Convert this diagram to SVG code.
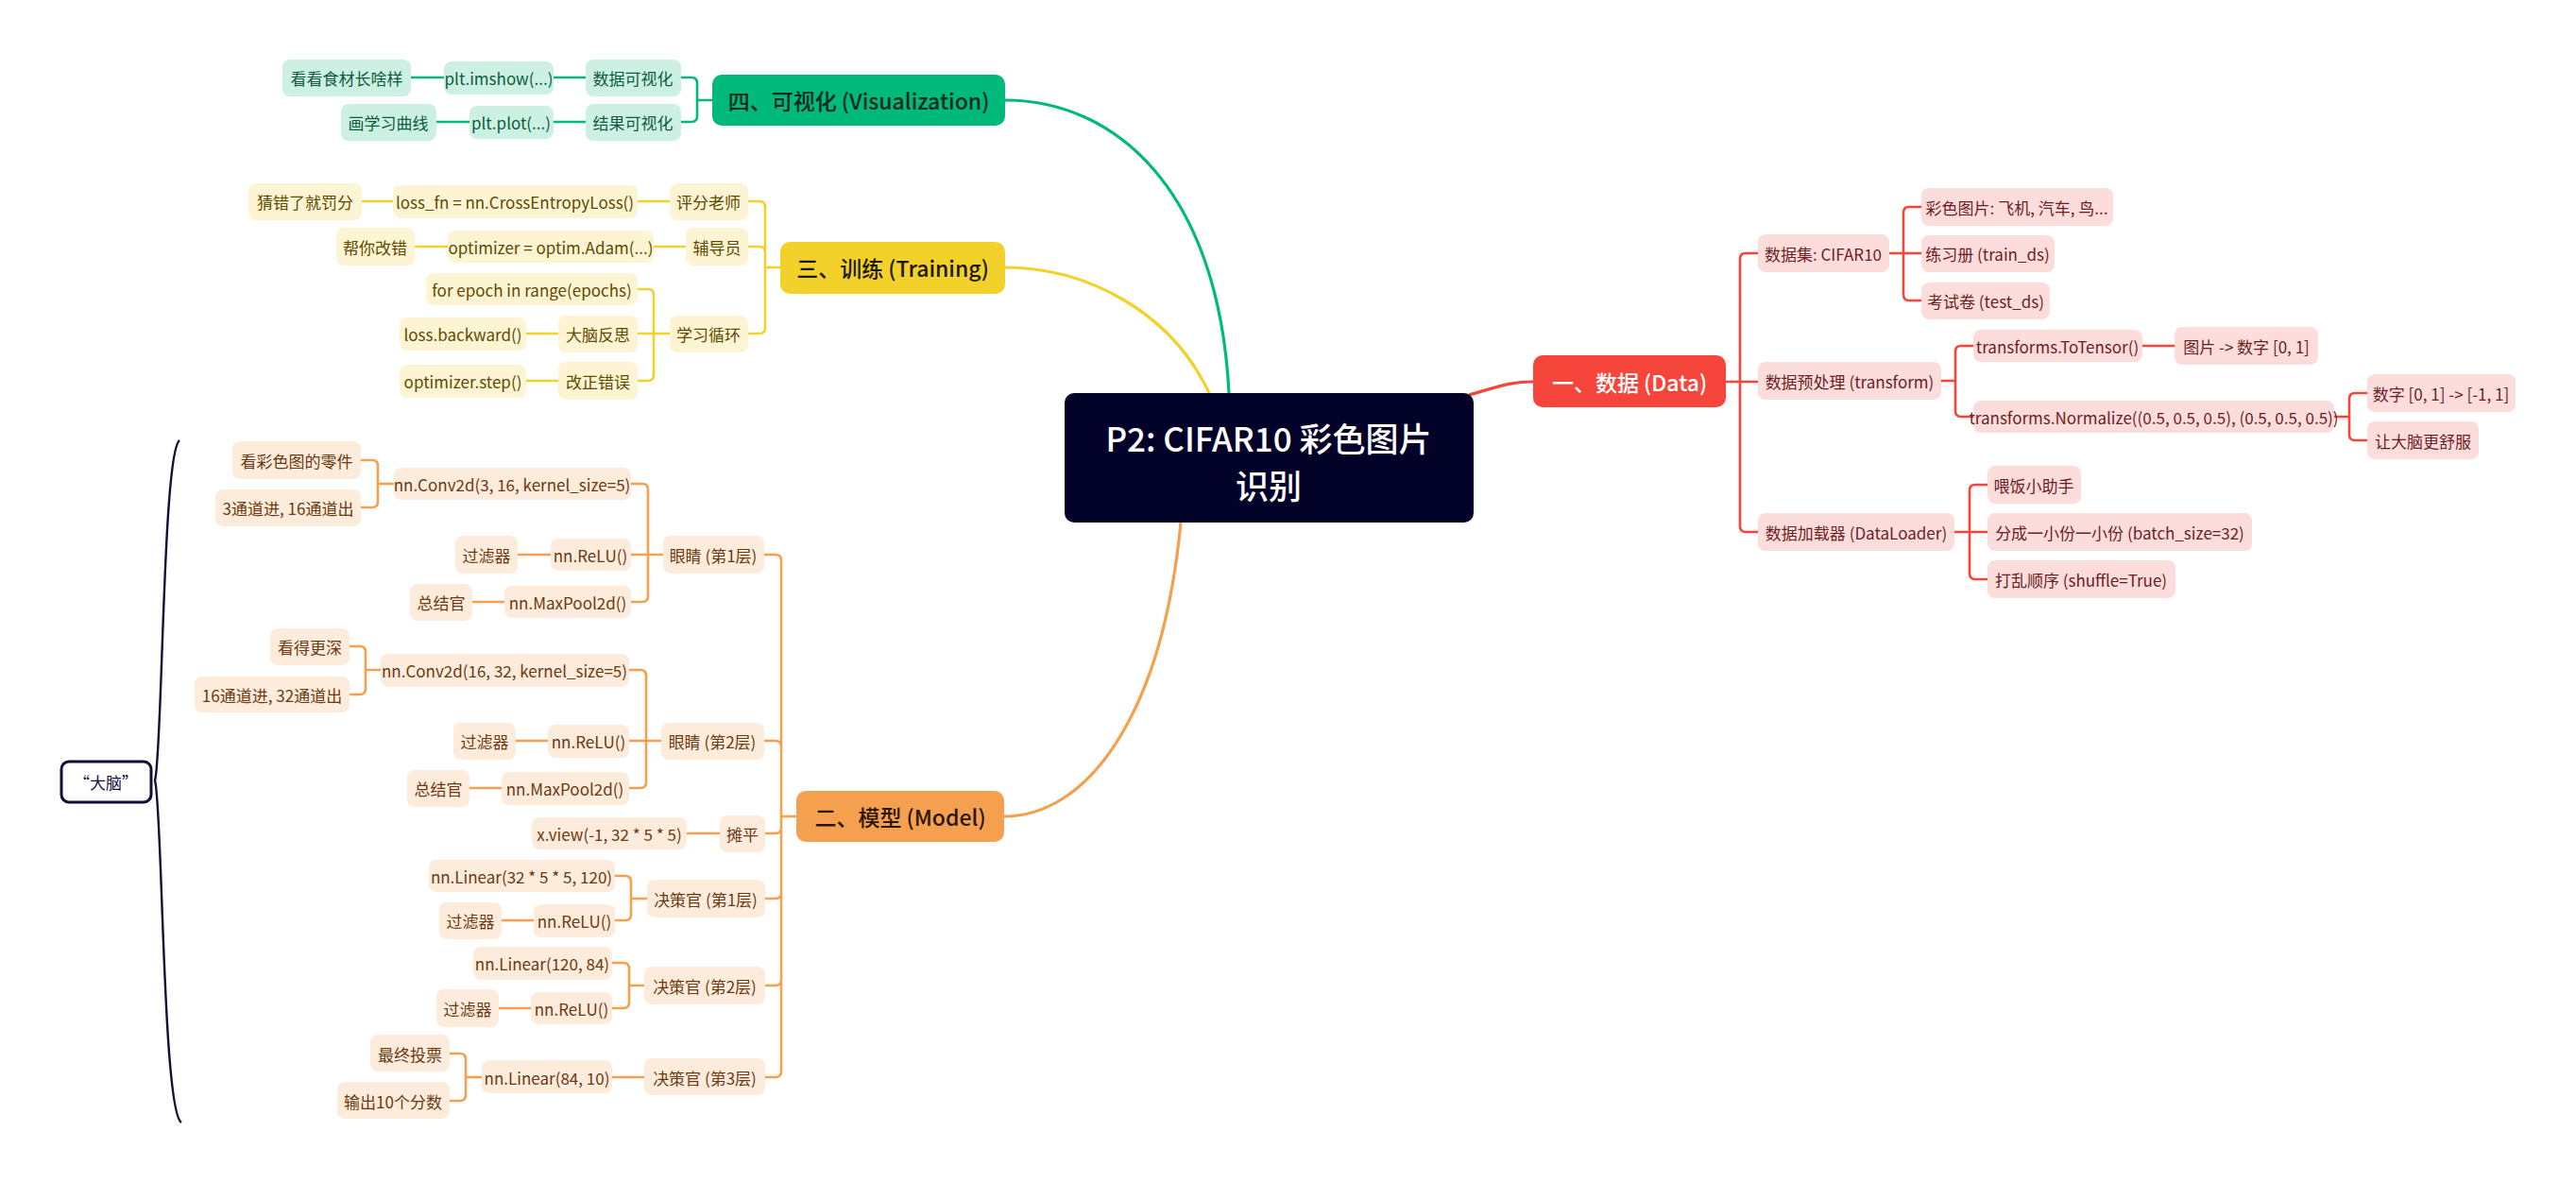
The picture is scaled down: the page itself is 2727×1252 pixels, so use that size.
<svg xmlns="http://www.w3.org/2000/svg" width="2727" height="1252" viewBox="0 0 2727 1252">
<style>
text{font-family:"Noto Sans CJK SC","Noto Sans",sans-serif;text-anchor:middle;dominant-baseline:central;font-size:17px}
.t{font-size:23px;font-weight:500}
.ng{fill:#CCF1E3}.tg{fill:#0D5C40}
.ny{fill:#FDF4D3}.ty{fill:#5E4B00}
.no{fill:#FDEBDB}.to{fill:#6B3A12}
.nr{fill:#FDDCDC}.tr{fill:#6B1F1F}
.c{fill:none;stroke-width:2.6;stroke-linejoin:round}
.cg{stroke:#00B97A}.cy{stroke:#F2D12A}.co{stroke:#F5A04E}.cr{stroke:#F6463C}
.m{fill:none;stroke-width:3.2}
</style>
<rect width="2727" height="1252" fill="#fff"/>
<g id="connectors">
<path class="m cg" d="M1301 416 C1290 200 1180 106 1064 106"/>
<path class="m cy" d="M1280 416 C1240 330 1150 283 1064 283"/>
<path class="m co" d="M1250 553 C1230 760 1150 864 1063 864"/>
<path class="m cr" d="M1555 418 C1590 408 1600 404 1623 404"/>
<path class="c cg" d="M721 82 H732 Q738 82 738 88 V106 H754 M721 129 H732 Q738 129 738 123 V106 M586 82 H620 M435 82 H470 M586 129 H620 M462 129 H497"/>
<path class="c cy" d="M792 213 H804 Q810 213 810 219 V283 H826 M792 261 H804 Q810 261 810 267 V283 M792 353 H804 Q810 353 810 347 V283 M675 213 H709 M383 213 H416 M692 261 H726 M439 261 H474 M675 306 H686 Q692 306 692 312 V353 H709 M675 353 H692 M675 403 H686 Q692 403 692 397 V353 M557 353 H591 M557 403 H591"/>
<path class="c co" d="M809 587 H821 Q827 587 827 593 V864 H843 M809 784 H821 Q827 784 827 790 V864 M810 882 H821 Q827 882 827 876 V864 M810 951 H821 Q827 951 827 945 V864 M810 1043 H821 Q827 1043 827 1037 V864 M810 1140 H821 Q827 1140 827 1134 V864
M668 512 H680 Q686 512 686 518 V587 H702 M668 587 H686 M668 637 H680 Q686 637 686 631 V587
M382 487 H394 Q400 487 400 493 V512 H417 M382 537 H394 Q400 537 400 531 V512 M548 587 H583 M500 637 H534
M666 709 H678 Q684 709 684 715 V784 H700 M666 784 H684 M666 834 H678 Q684 834 684 828 V784
M370 684 H381 Q387 684 387 690 V709 H403 M370 735 H381 Q387 735 387 729 V709 M546 784 H580 M497 834 H531
M727 882 H762
M651 927 H662 Q668 927 668 933 V951 H685 M651 974 H662 Q668 974 668 968 V951 M531 974 H565
M648 1019 H660 Q666 1019 666 1025 V1043 H682 M648 1067 H660 Q666 1067 666 1061 V1043 M528 1067 H562
M648 1140 H682 M476 1115 H487 Q493 1115 493 1121 V1140 H510 M476 1165 H487 Q493 1165 493 1159 V1140"/>
<path class="c cr" d="M1827 404 H1842 V274 Q1842 268 1848 268 H1861 M1842 404 H1861 M1842 404 V557 Q1842 563 1848 563 H1861
M2000 268 H2015 V225 Q2015 219 2021 219 H2034 M2015 268 H2034 M2015 268 V312 Q2015 318 2021 318 H2034
M2055 403 H2070 V372 Q2070 366 2076 366 H2089 M2070 403 V435 Q2070 441 2076 441 H2089 M2268 366 H2302
M2471 441 H2487 V422 Q2487 416 2493 416 H2506 M2487 441 V460 Q2487 466 2493 466 H2506
M2069 563 H2085 V519 Q2085 513 2091 513 H2104 M2085 563 H2104 M2085 563 V607 Q2085 613 2091 613 H2104"/>
<path fill="none" stroke="#0F0F3A" stroke-width="2.4" d="M190 466 C172 480 172 800 164 826 C172 852 172 1175 192 1188"/>
</g>
<g id="center"><rect x="1127" y="416" width="433" height="137" rx="10" fill="#03032A"/><text x="1343" y="462" style="font-size:35px;font-weight:500" fill="#fff">P2: CIFAR10 彩色图片</text><text x="1343" y="512" style="font-size:35px;font-weight:500" fill="#fff">识别</text></g>
<g id="brain"><rect x="65" y="806" width="95" height="43" rx="8" fill="#fff" stroke="#0F0F3A" stroke-width="3"/><text x="112" y="827" fill="#0F0F3A">“大脑”</text></g>
<!-- green -->
<g id="viz"><rect x="754" y="79" width="310" height="54" rx="10" fill="#00B97A"/><text class="t" x="909" y="106" fill="#0A2A1E">四、可视化 (Visualization)</text></g>
<g id="g1"><rect class="ng" x="299" y="63" width="136" height="39" rx="8"/><text class="tg" x="367" y="82">看看食材长啥样</text></g>
<g id="g2"><rect class="ng" x="470" y="65" width="116" height="35" rx="8"/><text class="tg" x="528" y="82">plt.imshow(...)</text></g>
<g id="g3"><rect class="ng" x="620" y="63" width="101" height="39" rx="8"/><text class="tg" x="670" y="82">数据可视化</text></g>
<g id="g4"><rect class="ng" x="361" y="110" width="101" height="39" rx="8"/><text class="tg" x="411" y="129">画学习曲线</text></g>
<g id="g5"><rect class="ng" x="497" y="112" width="89" height="35" rx="8"/><text class="tg" x="541" y="129">plt.plot(...)</text></g>
<g id="g6"><rect class="ng" x="620" y="110" width="101" height="39" rx="8"/><text class="tg" x="670" y="129">结果可视化</text></g>
<!-- yellow -->
<g id="train"><rect x="826" y="256" width="238" height="55" rx="10" fill="#F2D12A"/><text class="t" x="945" y="283" fill="#1E1800">三、训练 (Training)</text></g>
<g id="y1"><rect class="ny" x="263" y="194" width="120" height="39" rx="8"/><text class="ty" x="323" y="213">猜错了就罚分</text></g>
<g id="y2"><rect class="ny" x="416" y="196" width="259" height="35" rx="8"/><text class="ty" x="545" y="213">loss_fn = nn.CrossEntropyLoss()</text></g>
<g id="y3"><rect class="ny" x="709" y="194" width="83" height="39" rx="8"/><text class="ty" x="750" y="213">评分老师</text></g>
<g id="y4"><rect class="ny" x="356" y="241" width="83" height="40" rx="8"/><text class="ty" x="397" y="261">帮你改错</text></g>
<g id="y5"><rect class="ny" x="474" y="244" width="218" height="34" rx="8"/><text class="ty" x="583" y="261">optimizer = optim.Adam(...)</text></g>
<g id="y6"><rect class="ny" x="726" y="241" width="66" height="40" rx="8"/><text class="ty" x="759" y="261">辅导员</text></g>
<g id="y7"><rect class="ny" x="451" y="289" width="224" height="34" rx="8"/><text class="ty" x="563" y="306">for epoch in range(epochs)</text></g>
<g id="y8"><rect class="ny" x="709" y="334" width="83" height="39" rx="8"/><text class="ty" x="750" y="353">学习循环</text></g>
<g id="y9"><rect class="ny" x="591" y="334" width="84" height="39" rx="8"/><text class="ty" x="633" y="353">大脑反思</text></g>
<g id="y10"><rect class="ny" x="423" y="336" width="134" height="35" rx="8"/><text class="ty" x="490" y="353">loss.backward()</text></g>
<g id="y11"><rect class="ny" x="591" y="383" width="84" height="40" rx="8"/><text class="ty" x="633" y="403">改正错误</text></g>
<g id="y12"><rect class="ny" x="423" y="386" width="134" height="35" rx="8"/><text class="ty" x="490" y="403">optimizer.step()</text></g>
<!-- orange -->
<g id="model"><rect x="843" y="837" width="220" height="54" rx="10" fill="#F5A04E"/><text class="t" x="953" y="864" fill="#2A1505">二、模型 (Model)</text></g>
<g id="o1"><rect class="no" x="246" y="467" width="136" height="40" rx="8"/><text class="to" x="314" y="487">看彩色图的零件</text></g>
<g id="o2"><rect class="no" x="228" y="518" width="154" height="39" rx="8"/><text class="to" x="305" y="537">3通道进, 16通道出</text></g>
<g id="o3"><rect class="no" x="417" y="495" width="251" height="34" rx="8"/><text class="to" x="542" y="512">nn.Conv2d(3, 16, kernel_size=5)</text></g>
<g id="o4"><rect class="no" x="482" y="567" width="66" height="40" rx="8"/><text class="to" x="515" y="587">过滤器</text></g>
<g id="o5"><rect class="no" x="583" y="570" width="85" height="34" rx="8"/><text class="to" x="625" y="587">nn.ReLU()</text></g>
<g id="o6"><rect class="no" x="702" y="567" width="107" height="40" rx="8"/><text class="to" x="755" y="587">眼睛 (第1层)</text></g>
<g id="o7"><rect class="no" x="434" y="618" width="66" height="39" rx="8"/><text class="to" x="467" y="637">总结官</text></g>
<g id="o8"><rect class="no" x="534" y="620" width="134" height="34" rx="8"/><text class="to" x="601" y="637">nn.MaxPool2d()</text></g>
<g id="o9"><rect class="no" x="286" y="665" width="84" height="39" rx="8"/><text class="to" x="328" y="684">看得更深</text></g>
<g id="o10"><rect class="no" x="206" y="716" width="164" height="38" rx="8"/><text class="to" x="288" y="735">16通道进, 32通道出</text></g>
<g id="o11"><rect class="no" x="403" y="692" width="263" height="35" rx="8"/><text class="to" x="534" y="709">nn.Conv2d(16, 32, kernel_size=5)</text></g>
<g id="o12"><rect class="no" x="480" y="765" width="66" height="39" rx="8"/><text class="to" x="513" y="784">过滤器</text></g>
<g id="o13"><rect class="no" x="580" y="767" width="86" height="35" rx="8"/><text class="to" x="623" y="784">nn.ReLU()</text></g>
<g id="o14"><rect class="no" x="700" y="765" width="109" height="39" rx="8"/><text class="to" x="754" y="784">眼睛 (第2层)</text></g>
<g id="o15"><rect class="no" x="431" y="815" width="66" height="39" rx="8"/><text class="to" x="464" y="834">总结官</text></g>
<g id="o16"><rect class="no" x="531" y="817" width="135" height="35" rx="8"/><text class="to" x="598" y="834">nn.MaxPool2d()</text></g>
<g id="o17"><rect class="no" x="563" y="865" width="164" height="34" rx="8"/><text class="to" x="645" y="882">x.view(-1, 32 * 5 * 5)</text></g>
<g id="o18"><rect class="no" x="762" y="863" width="48" height="39" rx="8"/><text class="to" x="786" y="882">摊平</text></g>
<g id="o19"><rect class="no" x="454" y="910" width="197" height="34" rx="8"/><text class="to" x="552" y="927">nn.Linear(32 * 5 * 5, 120)</text></g>
<g id="o20"><rect class="no" x="685" y="931" width="125" height="40" rx="8"/><text class="to" x="747" y="951">决策官 (第1层)</text></g>
<g id="o21"><rect class="no" x="465" y="955" width="66" height="39" rx="8"/><text class="to" x="498" y="974">过滤器</text></g>
<g id="o22"><rect class="no" x="565" y="957" width="86" height="35" rx="8"/><text class="to" x="608" y="974">nn.ReLU()</text></g>
<g id="o23"><rect class="no" x="501" y="1002" width="147" height="35" rx="8"/><text class="to" x="574" y="1019">nn.Linear(120, 84)</text></g>
<g id="o24"><rect class="no" x="682" y="1023" width="128" height="40" rx="8"/><text class="to" x="746" y="1043">决策官 (第2层)</text></g>
<g id="o25"><rect class="no" x="462" y="1047" width="66" height="40" rx="8"/><text class="to" x="495" y="1067">过滤器</text></g>
<g id="o26"><rect class="no" x="562" y="1050" width="86" height="34" rx="8"/><text class="to" x="605" y="1067">nn.ReLU()</text></g>
<g id="o27"><rect class="no" x="392" y="1095" width="84" height="39" rx="8"/><text class="to" x="434" y="1115">最终投票</text></g>
<g id="o28"><rect class="no" x="357" y="1145" width="119" height="39" rx="8"/><text class="to" x="416" y="1165">输出10个分数</text></g>
<g id="o29"><rect class="no" x="510" y="1122" width="138" height="35" rx="8"/><text class="to" x="579" y="1140">nn.Linear(84, 10)</text></g>
<g id="o30"><rect class="no" x="682" y="1120" width="128" height="39" rx="8"/><text class="to" x="746" y="1140">决策官 (第3层)</text></g>
<!-- red -->
<g id="data"><rect x="1623" y="376" width="204" height="55" rx="10" fill="#F6463C"/><text class="t" x="1725" y="404" fill="#fff">一、数据 (Data)</text></g>
<g id="r1"><rect class="nr" x="1861" y="248" width="139" height="40" rx="8"/><text class="tr" x="1930" y="268">数据集: CIFAR10</text></g>
<g id="r2"><rect class="nr" x="2034" y="199" width="203" height="40" rx="8"/><text class="tr" x="2135" y="219">彩色图片: 飞机, 汽车, 鸟...</text></g>
<g id="r3"><rect class="nr" x="2034" y="249" width="141" height="39" rx="8"/><text class="tr" x="2104" y="268">练习册 (train_ds)</text></g>
<g id="r4"><rect class="nr" x="2034" y="299" width="136" height="39" rx="8"/><text class="tr" x="2102" y="318">考试卷 (test_ds)</text></g>
<g id="r5"><rect class="nr" x="1861" y="383" width="194" height="40" rx="8"/><text class="tr" x="1958" y="403">数据预处理 (transform)</text></g>
<g id="r6"><rect class="nr" x="2089" y="349" width="179" height="34" rx="8"/><text class="tr" x="2178" y="366">transforms.ToTensor()</text></g>
<g id="r7"><rect class="nr" x="2302" y="346" width="152" height="40" rx="8"/><text class="tr" x="2378" y="366">图片 -&gt; 数字 [0, 1]</text></g>
<g id="r8"><rect class="nr" x="2089" y="424" width="382" height="34" rx="8"/><text class="tr" x="2280" y="441">transforms.Normalize((0.5, 0.5, 0.5), (0.5, 0.5, 0.5))</text></g>
<g id="r9"><rect class="nr" x="2506" y="396" width="157" height="40" rx="8"/><text class="tr" x="2584" y="416">数字 [0, 1] -&gt; [-1, 1]</text></g>
<g id="r10"><rect class="nr" x="2506" y="446" width="118" height="40" rx="8"/><text class="tr" x="2565" y="466">让大脑更舒服</text></g>
<g id="r11"><rect class="nr" x="1861" y="543" width="208" height="40" rx="8"/><text class="tr" x="1965" y="563">数据加载器 (DataLoader)</text></g>
<g id="r12"><rect class="nr" x="2104" y="493" width="99" height="40" rx="8"/><text class="tr" x="2153" y="513">喂饭小助手</text></g>
<g id="r13"><rect class="nr" x="2104" y="543" width="280" height="40" rx="8"/><text class="tr" x="2244" y="563">分成一小份一小份 (batch_size=32)</text></g>
<g id="r14"><rect class="nr" x="2104" y="593" width="199" height="40" rx="8"/><text class="tr" x="2203" y="613">打乱顺序 (shuffle=True)</text></g>
</svg>
